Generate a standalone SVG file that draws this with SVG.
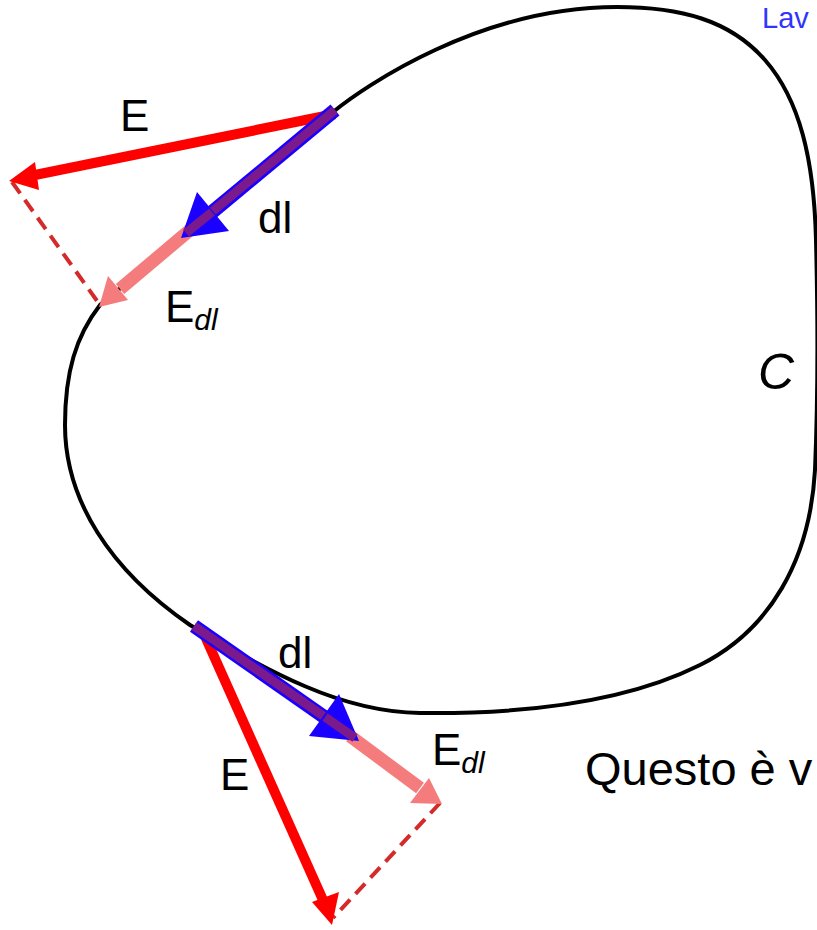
<svg xmlns="http://www.w3.org/2000/svg" width="817" height="930" viewBox="0 0 817 930">
<style>
.t{font-family:"Liberation Sans",Arial,sans-serif;fill:#000}
.curve{fill:none;stroke:#000;stroke-width:4}
.E{stroke:#ff0000;stroke-width:10;fill:none}
.dlb{stroke:#1a00ff;stroke-width:14;fill:none}
.dlp{stroke:#7a1a8c;stroke-width:9;fill:none}
.edl{stroke:#f47c7c;stroke-width:13;fill:none}
.dash{stroke:#d42a2a;stroke-width:4;stroke-dasharray:14 8;fill:none}
</style>
<rect width="817" height="930" fill="#fff"/>
<g id="curve-C">
<path class="curve" d="M 617,7 C 680,7 730,20 765,60 C 800,100 814,160 816,240 C 818,320 818,400 815,470 C 810,560 770,630 700,665 C 620,705 510,714 420,713 C 340,712 270,672 190,625 C 110,570 65,500 65,425 C 65,372 76,336 100,305 L 333,112 C 365,86 480,7 617,7 Z"/>
</g>
<g id="connectors">
<g id="top-vectors">
<line class="dash" x1="12" y1="182" x2="100" y2="305"/>
<line class="E" x1="335" y1="114" x2="30" y2="176"/>
<polygon points="9,181 35,162 39,190" fill="#ff0000"/>
<line class="edl" x1="190" y1="230" x2="120" y2="289"/>
<polygon points="99,307 108,276 128,300" fill="#f47c7c"/>
<line class="dlb" x1="335" y1="110" x2="205" y2="218"/>
<line class="dlp" x1="335" y1="110" x2="190" y2="230"/>
<polygon points="181,238 197,192 229,231" fill="#1a00ff"/>
<line class="dlp" x1="212" y1="212" x2="186" y2="233"/>
</g>
<g id="bottom-vectors">
<line class="dash" x1="440" y1="803" x2="333" y2="918"/>
<line class="E" x1="204" y1="634" x2="323" y2="900"/>
<polygon points="332,925 312,902 339,892" fill="#ff0000"/>
<line class="edl" x1="350" y1="736" x2="420" y2="788"/>
<polygon points="442,804 410,803 429,778" fill="#f47c7c"/>
<line class="dlb" x1="194" y1="626" x2="330" y2="721"/>
<line class="dlp" x1="194" y1="626" x2="352" y2="736"/>
<polygon points="359,741 339,694 309,736" fill="#1a00ff"/>
<line class="dlp" x1="325" y1="717" x2="355" y2="738"/>
</g>
</g>
<g id="labels">
<text class="t" x="120" y="131" font-size="44">E</text>
<text class="t" x="258" y="233" font-size="44">dl</text>
<text class="t" x="165" y="322" font-size="44">E<tspan font-size="30" font-style="italic" dy="8">dl</tspan></text>
<text class="t" x="758" y="389" font-size="50" font-style="italic">C</text>
<text class="t" x="278" y="668" font-size="44">dl</text>
<text class="t" x="432" y="765" font-size="44">E<tspan font-size="30" font-style="italic" dy="8">dl</tspan></text>
<text class="t" x="220" y="790" font-size="44">E</text>
<text class="t" x="585" y="785" font-size="47">Questo è v</text>
<text class="t" x="762" y="28" font-size="29" style="fill:#3333ff">Lav</text>
</g>
</svg>
